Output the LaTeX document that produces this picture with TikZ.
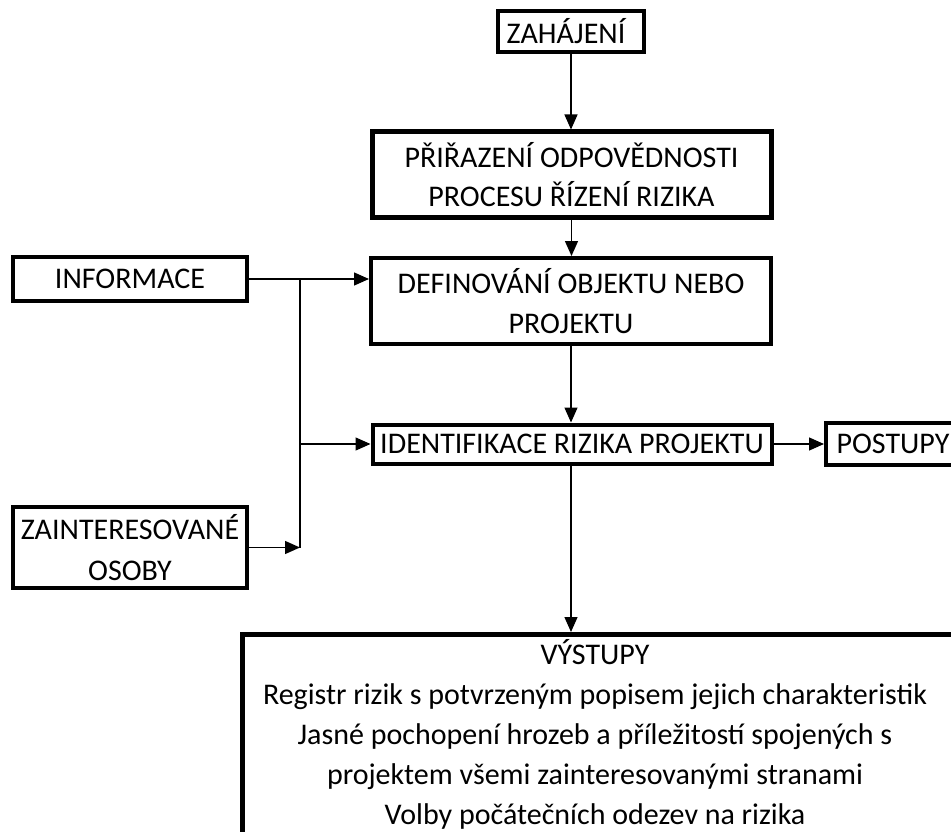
\documentclass[tikz,border=0pt]{standalone}
\usepackage{fontspec}
\setmainfont{Carlito}
\usetikzlibrary{arrows.meta}
\begin{document}
\begin{tikzpicture}[x=1pt,y=-1pt,
  box/.style={draw, line width=4pt, inner sep=0pt, align=center,
              font=\fontsize{30}{40}\selectfont},
  txt/.style={inner sep=0pt, align=center, font=\fontsize{30}{40}\selectfont},
  conn/.style={line width=1.4pt},
  arr/.style={conn, -{Triangle[length=15pt,width=13pt]}}]
\useasboundingbox (0,0) rectangle (951,832);
\clip (0,0) rectangle (951,832);

% process boxes
\node[box, minimum width=146pt, minimum height=41pt] (start) at (571,31.5)
  {\hspace*{-10pt}ZAHÁJENÍ};
\node[box, line width=5pt, minimum width=399pt, minimum height=85pt,
      font=\fontsize{30}{39}\selectfont] (resp) at (571.5,174.5)
  {PŘIŘAZENÍ ODPOVĚDNOSTI\\PROCESU ŘÍZENÍ RIZIKA};
\node[box, minimum width=400pt, minimum height=86pt] (def) at (571,301)
  {DEFINOVÁNÍ OBJEKTU NEBO\\PROJEKTU};
\node[box, minimum width=234pt, minimum height=44pt] (info) at (130,279) {INFORMACE};
\node[box, minimum width=234pt, minimum height=81pt, font=\fontsize{30}{41}\selectfont]
  (stake) at (130,547.5) {ZAINTERESOVANÉ\\OSOBY};
\node[box, minimum width=399pt, minimum height=39pt] (ident) at (572,444)
  {IDENTIFIKACE RIZIKA PROJEKTU};
\node[box, minimum width=134pt, minimum height=42pt] (proc) at (893,444) {POSTUPY};

% output box and its list
\node[draw, line width=4.5pt, inner sep=0pt, anchor=north west,
      minimum width=712pt, minimum height=240pt] (out) at (240,632) {};
\node[txt, anchor=base] (outtxt) at (595,824)
  {VÝSTUPY\\
   Registr rizik s potvrzeným popisem jejich charakteristik\\
   Jasné pochopení hrozeb a příležitostí spojených s\\
   projektem všemi zainteresovanými stranami\\
   Volby počátečních odezev na rizika};

% vertical collector line for the inputs
\coordinate (jx) at (300,0);

% connectors
\draw[arr] (start.south) -- (start.south |- resp.north);
\draw[arr] (resp.south) -- (resp.south |- def.north);
\draw[arr] (def.south) -- (def.south |- ident.north);
\draw[arr] (def.south |- ident.south) -- (def.south |- out.north);
\draw[arr] (info.east) -- (info.east -| def.west);
\draw[conn] (info.east -| jx) -- (stake.east -| jx);
\draw[arr] (ident.west -| jx) -- (ident.west);
\draw[arr] (stake.east) -- (stake.east -| jx);
\draw[arr] (ident.east) -- (proc.west);
\end{tikzpicture}
\end{document}
